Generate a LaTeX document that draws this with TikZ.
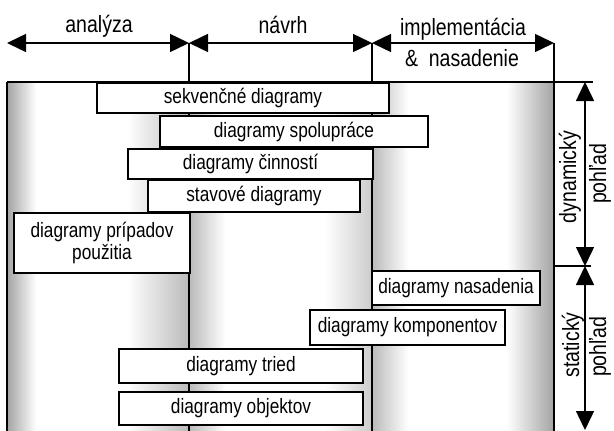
\documentclass[tikz,border=0pt]{standalone}
\usepackage{fontspec}
\setmainfont{Liberation Sans}[FakeStretch=0.83]
\usetikzlibrary{arrows.meta}
\colorlet{shA}{black!36}
\colorlet{shB}{black!27}
\colorlet{shC}{black!20}
\pgfdeclarehorizontalshading{colone}{100bp}{color(0bp)=(shA); color(25bp)=(shA); color(33bp)=(white); color(58bp)=(white); color(75bp)=(shB); color(100bp)=(shB)}
\pgfdeclarehorizontalshading{coltwo}{100bp}{color(0bp)=(shB); color(25bp)=(shB); color(35bp)=(white); color(62bp)=(white); color(75bp)=(shC); color(100bp)=(shC)}
\pgfdeclarehorizontalshading{colthree}{100bp}{color(0bp)=(shB); color(25bp)=(shB); color(35bp)=(white); color(62bp)=(white); color(75bp)=(shA); color(100bp)=(shA)}
\tikzset{
  box/.style={draw, fill=white, line width=1.5pt, inner sep=0pt, align=center,
    font=\fontsize{20.8}{22.5}\selectfont},
  hdr/.style={inner sep=0pt, font=\fontsize{23.5}{24}\selectfont},
  vtxt/.style={inner sep=0pt, rotate=90, font=\fontsize{23.5}{24}\selectfont},
  dim/.style={line width=1.5pt, {Triangle[length=19pt,width=18pt]}-{Triangle[length=19pt,width=18pt]}},
  rule/.style={line width=1.3pt}
}
\begin{document}
\begin{tikzpicture}[x=1pt,y=-1pt]
\useasboundingbox (0,0) rectangle (614,431);
% shading of the three columns
\shade[shading=colone] (7,82) rectangle (189,431);
\shade[shading=coltwo] (189,82) rectangle (372,431);
\shade[shading=colthree] (372,82) rectangle (554,431);
% coordinates
\coordinate (a0) at (7,43);
\coordinate (a1) at (189,43);
\coordinate (a2) at (372,43);
\coordinate (a3) at (554,43);
\coordinate (b0) at (7,431);
\coordinate (b1) at (189,431);
\coordinate (b2) at (372,431);
\coordinate (b3) at (554,431);
\coordinate (t0) at (7,82);
\coordinate (t1) at (593,82);
\coordinate (m0) at (554,266);
\coordinate (m1) at (591,266);
\coordinate (r0) at (585,82);
\coordinate (r1) at (585,266);
\coordinate (r2) at (585,430);
% frame and dividers
\draw[rule] (t0) -- (b0);
\draw[rule] (t0) -- (t1);
\draw[rule] (a1) -- (b1);
\draw[rule] (a2) -- (b2);
\draw[rule] (a3) -- (b3);
\draw[rule] (m0) -- (m1);
% phase arrows
\draw[dim] (a0) -- (a1);
\draw[dim] (a1) -- (a2);
\draw[dim] (a2) -- (a3);
% view arrows
\draw[dim] (r0) -- (r1);
\draw[dim] (r1) -- (r2);
% header texts
\node[hdr, anchor=base] (h1) at (99,32) {analýza};
\node[hdr, anchor=base] (h2) at (283,33) {návrh};
\node[hdr, anchor=base] (h3) at (463,35) {implementácia};
\node[hdr, anchor=base] (h4) at (462,66) {\&\ \ nasadenie};
% side texts
\node[vtxt] (v1) at (570,177) {dynamický};
\node[vtxt] (v2) at (600,174) {pohľad};
\node[vtxt] (v3) at (573,345) {statický};
\node[vtxt] (v4) at (600,347) {pohľad};
% boxes
\node[box, minimum width=292, minimum height=30] (seq) at (243,98) {sekvenčné diagramy};
\node[box, minimum width=268, minimum height=31] (spol) at (294,131.5) {diagramy spolupráce};
\node[box, minimum width=245, minimum height=30] (cinn) at (250.5,164) {diagramy činností};
\node[box, minimum width=212, minimum height=32] (stav) at (254,196) {stavové diagramy};
\node[box, minimum width=176, minimum height=60] (prip) at (102,243) {diagramy prípadov\\použitia};
\node[box, minimum width=168, minimum height=34] (nas) at (456,288) {diagramy nasadenia};
\node[box, minimum width=195, minimum height=35] (komp) at (407.5,327.5) {diagramy komponentov};
\node[box, minimum width=244, minimum height=34] (tried) at (241,366) {diagramy tried};
\node[box, minimum width=244, minimum height=33] (obj) at (241,408.5) {diagramy objektov};
\end{tikzpicture}
\end{document}
